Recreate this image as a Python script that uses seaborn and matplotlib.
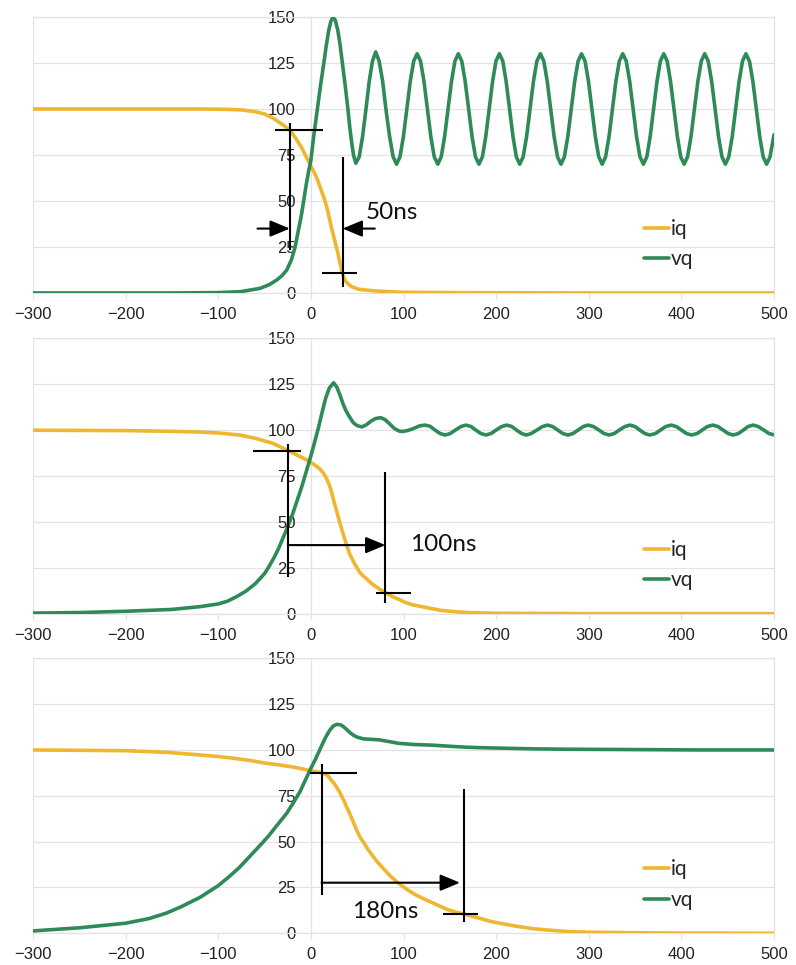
import numpy as np
import pandas as pd
import matplotlib
matplotlib.use('Agg')
import matplotlib.pyplot as plt
import seaborn as sns

# ---- data (time in ns, value) ----
# panel 1
iq1_t = [-300, -200, -120, -90, -75, -60, -50, -45, -40, -35, -29, -23, -19, -15, -10, -5, 0, 6, 10, 15,
         18.5, 22, 25.5, 29, 32, 35, 37.5, 40, 44, 52, 67, 96, 150, 300, 500]
iq1_v = [100, 100, 100, 99.8, 99.5, 98.5, 97.3, 96, 94.8, 93, 91, 88.5, 86, 83, 79, 74, 69, 63, 57.5, 50.5,
         44, 36, 29, 22, 15, 9, 6.5, 5, 3.4, 2, 1.2, 0.4, 0.2, 0, 0]

vq1_t = [-300, -150, -100, -76, -55, -45, -37, -31, -26, -21, -17, -13.5, -10, -7.5, -5, -2.5, 0, 3, 7, 10.5,
         14, 16.5, 19, 21.5, 24, 26.5, 29, 31.5, 34, 37, 40, 42, 44, 46, 48.5,
         52.2, 55.8, 59.5, 63, 66.5, 70, 73.7, 77.5, 81, 85, 88.8, 92.5,
         96.2, 99.9, 103.6, 107.3, 111, 114.7, 118.4, 122.1, 125.8, 129.5, 133.2, 137,
         140.7, 144.4, 148.1, 151.8, 155.5, 159.2, 162.9, 166.6, 170.3, 174, 177.7, 181.5,
         185.2, 188.8, 192.5, 196.2, 199.8, 203.5, 207.2, 210.8, 214.5, 218.2, 221.8, 225.5,
         229.2, 232.9, 236.6, 240.3, 244, 247.8, 251.5, 255.2, 258.9, 262.6, 266.3, 270,
         273.7, 277.4, 281.1, 284.8, 288.5, 292.2, 296, 299.7, 303.4, 307.1, 310.8, 314.5,
         318.2, 321.9, 325.6, 329.3, 333, 336.7, 340.5, 344.2, 347.9, 351.6, 355.3, 359,
         362.7, 366.3, 370, 373.7, 377.3, 381, 384.7, 388.3, 392, 395.7, 399.3, 403,
         406.7, 410.4, 414.1, 417.8, 421.5, 425.2, 429, 432.7, 436.4, 440.1, 443.8, 447.5,
         451.2, 454.9, 458.6, 462.3, 466, 469.7, 473.5, 477.2, 480.9, 484.6, 488.3, 492,
         495.7, 500]
vq1_v = [0, 0, 0.2, 0.7, 2.5, 4.5, 7, 9.5, 12.5, 18, 25, 34, 43, 51, 59, 66, 72, 85, 100, 113,
         125, 134, 142, 147.5, 150, 148, 143, 135, 125, 113, 100, 90, 82, 75, 70.5,
         74, 85, 100, 115, 126, 131, 126, 115, 100, 85, 74, 70,
         74, 85, 100, 115, 126, 130, 126, 115, 100, 85, 74, 70,
         74, 85, 100, 115, 126, 130, 126, 115, 100, 85, 74, 70,
         74, 85, 100, 115, 126, 130, 126, 115, 100, 85, 74, 70,
         74, 85, 100, 115, 126, 130, 126, 115, 100, 85, 74, 70,
         74, 85, 100, 115, 126, 130, 126, 115, 100, 85, 74, 70,
         74, 85, 100, 115, 126, 130, 126, 115, 100, 85, 74, 70,
         74, 85, 100, 115, 126, 130, 126, 115, 100, 85, 74, 70,
         74, 85, 100, 115, 126, 130, 126, 115, 100, 85, 74, 70,
         74, 85, 100, 115, 126, 130, 126, 115, 100, 85, 74, 70,
         74, 86]

# panel 2
iq2_t = [-300, -250, -200, -150, -120, -100, -77, -60, -41, -24.5, -15, -5, 3, 9, 13, 16, 18, 20, 22, 23.5,
         25, 27, 30.5, 34, 38, 42, 47, 53, 59.5, 67, 74.5, 82, 88, 95, 102, 110, 125, 140, 155, 170,
         200, 300, 500]
iq2_v = [100, 99.9, 99.8, 99.4, 99, 98.5, 97.4, 95.6, 92.9, 88.9, 86.5, 84, 81.5, 79.3, 77, 74.7, 72.5, 70, 67, 64,
         61, 57.5, 51, 45, 38.5, 32.5, 27.5, 22.5, 19.4, 16, 13.4, 11.3, 9.5, 8, 6.3, 5, 3.5, 2, 1.3, 0.8,
         0.4, 0.2, 0.2]

vq2_t = [-300, -250, -200, -150, -120, -100, -90, -80, -70, -60, -50, -45, -40, -35, -30, -25, -20, -15, -10, -5,
         0, 4, 8, 12, 16, 20, 24.5, 28, 31.5, 35, 38, 42, 46, 50, 55, 60, 65, 70, 75.5, 80,
         85, 90, 95, 99, 105, 111, 117, 123, 128.5, 134, 139.5, 145, 150.5, 156, 162, 167.5, 173, 178,
         183.5, 189, 194.5, 200, 206, 211.5, 217, 222, 227.5, 232.5, 238, 244, 250, 255.5, 261, 266.5,
         272, 277.5, 283, 288.5, 294, 299.5, 305, 311, 316.5, 322, 327.5, 333, 339, 344.5, 350, 355,
         360.5, 366, 372, 377.5, 383, 389, 394.5, 400, 405.5, 411, 417, 422.5, 428, 434, 439.5, 445,
         450.5, 456, 461.5, 467, 472, 477.5, 483, 489, 494.5, 500]
vq2_v = [0.5, 0.8, 1.5, 2.5, 4, 5.5, 7, 9.5, 12.5, 16.5, 22, 26, 30.5, 35.5, 41.5, 47.5, 54, 61.5, 69, 77.5,
         86, 93.5, 101, 109.5, 117.5, 123, 125.8, 123.5, 119, 114, 110.5, 107, 104, 102.5, 101.8, 103, 105, 106.4, 106.8, 105.8,
         103.5, 101, 99.6, 99.3, 99.9, 101, 102.3, 102.8, 102.2, 100.1, 98.2, 97.4, 98.2, 100.1, 102, 102.8, 102, 100.1,
         98.2, 97.4, 98.2, 100.1, 102, 102.8, 102, 100.1, 98.2, 97.4, 98.2, 100.1, 102, 102.8, 102, 100.1,
         98.2, 97.4, 98.2, 100.1, 102, 102.8, 102, 100.1, 98.2, 97.4, 98.2, 100.1, 102, 102.8, 102, 100.1,
         98.2, 97.4, 98.2, 100.1, 102, 102.8, 102, 100.1, 98.2, 97.4, 98.2, 100.1, 102, 102.8, 102, 100.1,
         98.2, 97.4, 98.2, 100.1, 102, 102.8, 102, 100.1, 98.2, 97.5]

# panel 3
iq3_t = [-300, -250, -200, -156, -120, -100, -84, -65, -48, -35, -23, -12, -1, 5, 10, 14, 17, 20, 22, 25,
         28, 31, 33, 36, 38.5, 41, 43, 46, 49.3, 53, 57, 62, 67.3, 72, 78, 85, 92.5, 98, 105, 113,
         121, 132, 147, 155, 165, 180, 194, 204, 220, 240, 258, 276, 300, 350, 400, 500]
iq3_v = [100, 99.8, 99.6, 98.7, 97.3, 96.4, 95.5, 94.2, 92.7, 91.9, 91, 90, 88.7, 88.2, 87.8, 87.2, 86.4, 85, 83.5, 81.8,
         79.5, 77, 75, 72, 69, 66.3, 64, 60.5, 56.4, 52.5, 49.5, 45.5, 41.8, 38.8, 35.5, 31.6, 28.2, 26, 23.5, 21,
         19, 16.5, 13, 11.8, 10.5, 8.5, 6.5, 5.5, 4, 2.5, 1.7, 1, 0.6, 0.3, 0.1, 0]

vq3_t = [-300, -250, -200, -175, -156, -140, -120, -100, -88, -77, -65, -52, -45, -38, -30, -26, -18, -12, -6, 0,
         5, 10, 15, 20, 24, 28, 32, 35, 39, 42, 46, 50, 57, 65, 74, 85, 95, 110, 132, 150,
         168, 185, 204, 240, 276, 350, 420, 500]
vq3_v = [1.3, 3, 5.5, 8, 11, 14.5, 19.5, 26, 31, 36, 42.5, 49.5, 53.5, 58, 63, 65.5, 72, 77, 83.5, 90,
         95, 100.5, 106, 110.5, 113, 114, 113.7, 112.8, 111, 109.5, 108, 107, 106, 105.8, 105.5, 104.5, 103.6, 103, 102.6, 102,
         101.5, 101.2, 101, 100.6, 100.4, 100.2, 100, 100]

series_names = ['iq', 'vq']
x_ticks = [-300, -200, -100, 0, 100, 200, 300, 400, 500]
y_ticks = [0, 25, 50, 75, 100, 125, 150]

# annotation geometry (data units)
marks = [
    dict(hl_top=(88.6, -38.5, 13.3), vl_left=(-22.7, 23.4, 92.4), vl_right=(34.2, 3, 74),
         hl_bot=(10.7, 11.5, 49.3), arrows=[((-57.6, 35), (-22.7, 35)), ((69, 35), (34.2, 35))],
         text='50ns', text_xy=(59.5, 44), ha='left'),
    dict(hl_top=(88.9, -62, -10.5), vl_left=(-24.5, 20.3, 92.5), vl_right=(80.5, 5.8, 77.4),
         hl_bot=(11.3, 70, 108.5), arrows=[((-24.5, 37.5), (80.5, 37.5))],
         text='100ns', text_xy=(107, 38), ha='left'),
    dict(hl_top=(87.6, -1.1, 50.3), vl_left=(11.5, 20.9, 92.3), vl_right=(165.2, 6.3, 78.6),
         hl_bot=(10.5, 142.2, 180.7), arrows=[((11.5, 27.6), (161, 27.6))],
         text='180ns', text_xy=(80, 12), ha='center'),
]

sns.set_theme(style='white')
plt.rcParams['font.family'] = ['Liberation Sans', 'DejaVu Sans']

palette = {'iq': '#EFB62F', 'vq': '#2E8B57'}
grid_c = '#E3E3E3'

fig = plt.figure(figsize=(7.96, 9.65), dpi=100)
panel_boxes = [(0.04146, 0.6964, 0.9309, 0.2860),
               (0.04146, 0.3637, 0.9309, 0.2857),
               (0.04146, 0.03285, 0.9309, 0.2850)]
panels = [(iq1_t, iq1_v, vq1_t, vq1_v), (iq2_t, iq2_v, vq2_t, vq2_v), (iq3_t, iq3_v, vq3_t, vq3_v)]

for box, (it, iv, vt, vv), mk in zip(panel_boxes, panels, marks):
    ax = fig.add_axes(box)
    df = pd.concat([pd.DataFrame({'t': it, 'value': iv, 'series': 'iq'}),
                    pd.DataFrame({'t': vt, 'value': vv, 'series': 'vq'})], ignore_index=True)
    sns.lineplot(data=df, x='t', y='value', hue='series', hue_order=series_names, palette=palette,
                 estimator=None, lw=2.6, legend=False, ax=ax, zorder=3)
    for ln in ax.get_lines():
        ln.set_solid_joinstyle('round')
    ax.set_xlim(-300, 500)
    ax.set_ylim(0, 150)
    ax.set_xticks(x_ticks)
    ax.set_yticks(y_ticks)
    ax.set_xlabel('')
    ax.set_ylabel('')
    ax.grid(axis='y', color=grid_c, lw=0.9, zorder=0)
    ax.spines['left'].set_position(('data', 0))
    for s in ['left', 'right', 'bottom', 'top']:
        ax.spines[s].set_color(grid_c)
        ax.spines[s].set_linewidth(0.9)
    ax.axvline(-300, color=grid_c, lw=0.9, zorder=0)
    ax.tick_params(axis='y', length=0, pad=11, labelsize=12, labelcolor='#222222')
    ax.tick_params(axis='x', length=4, width=0.9, color=grid_c, pad=6, labelsize=12,
                   labelcolor='#222222', direction='out')
    ax.tick_params(left=False, bottom=True)

    # annotation marks
    kw = dict(color='black', lw=1.5, zorder=5, solid_capstyle='butt')
    y, x0, x1 = mk['hl_top']
    ax.plot([x0, x1], [y, y], **kw)
    y, x0, x1 = mk['hl_bot']
    ax.plot([x0, x1], [y, y], **kw)
    x, y0, y1 = mk['vl_left']
    ax.plot([x, x], [y0, y1], **kw)
    x, y0, y1 = mk['vl_right']
    ax.plot([x, x], [y0, y1], **kw)
    for start, end in mk['arrows']:
        ax.annotate('', xy=end, xytext=start,
                    arrowprops=dict(arrowstyle='-|>,head_length=0.6,head_width=0.25', color='black',
                                    lw=1.5, shrinkA=0, shrinkB=0, mutation_scale=20), zorder=5)
    ax.text(mk['text_xy'][0], mk['text_xy'][1], mk['text'], fontsize=17.5, family=['Lato', 'DejaVu Sans'],
            ha=mk['ha'], va='center', color='#111111', zorder=6)

    lines = ax.get_lines()[:2]
    leg = ax.legend(lines, series_names, loc='center left', bbox_to_anchor=(0.824, 0.177),
                    frameon=False, handlelength=1.2, handletextpad=0.1, labelspacing=0.5,
                    borderpad=0, borderaxespad=0, prop={'family': ['Lato', 'DejaVu Sans'], 'size': 15})
    for h in leg.legend_handles:
        h.set_linewidth(2.6)

fig.savefig('out.png', dpi=100)
